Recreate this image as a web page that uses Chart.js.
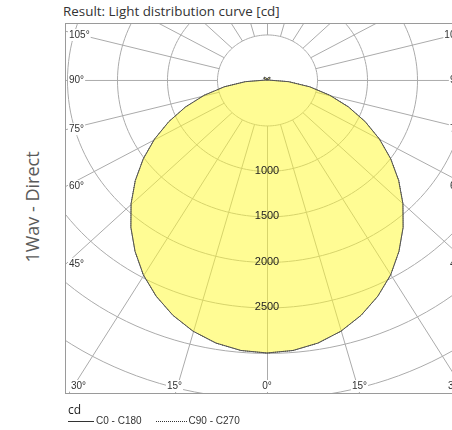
<!DOCTYPE html>
<html>
<head>
<meta charset="utf-8">
<script src="https://cdn.jsdelivr.net/npm/chart.js@4.4.0/dist/chart.umd.min.js"></script>
<style>
  html, body { margin: 0; padding: 0; background: #fff; }
  body { width: 452px; height: 430px; overflow: hidden; position: relative; }
  #wrap { position: absolute; left: 0; top: 0; width: 480px; height: 430px; }
  #title { position: absolute; left: 63px; top: 2px; font: 13.4px "Open Sans", sans-serif; color: #333; white-space: nowrap; }
  #side { position: absolute; left: 32px; top: 207px; transform: translate(-50%, -50%) rotate(-90deg);
          font: 18px "Open Sans", sans-serif; color: #5a5a5a; white-space: nowrap; }
  #unit { position: absolute; left: 68px; top: 401px; font: 12px "Open Sans", sans-serif; color: #222; }
  #legend { position: absolute; left: 68px; top: 415px; font: 10px "Liberation Sans", Arial, sans-serif; color: #333; white-space: nowrap; }
  #legend span.ln { display: inline-block; width: 26px; vertical-align: middle; margin-right: 2px; }
  #legend span.solid { border-top: 1px solid #333; }
  #legend span.dot { border-top: 1px dotted #333; margin-left: 14px; width: 31px; }
</style>
</head>
<body>
<div id="title">Result: Light distribution curve [cd]</div>
<div id="side">1Wav - Direct</div>
<div id="wrap"><canvas id="ldc" width="480" height="430"></canvas></div>
<div id="unit">cd</div>
<div id="legend"><span class="ln solid"></span>C0 - C180<span class="ln dot"></span>C90 - C270</div>

<script>
// ==========================================
// DATA
// ==========================================
const angles = [0, 5, 10, 15, 20, 25, 30, 35, 40, 45, 50, 55, 60, 65, 70, 75, 80, 85, 90,
                95, 100, 105, 110, 115, 120, 125, 130, 135, 140, 145, 150, 155, 160, 165, 170, 175, 180];
const c0c180 = [3000, 2984, 2936, 2858, 2752, 2622, 2473, 2300, 2117, 1922, 1719, 1510, 1298, 1083, 867, 650, 434, 217, 0,
                3, 8, 14, 20, 26, 32, 36, 39, 40, 38, 34, 28, 21, 14, 8, 4, 1, 0];
const c90c270 = [3000, 2984, 2936, 2858, 2752, 2622, 2473, 2300, 2117, 1922, 1719, 1510, 1298, 1083, 867, 650, 434, 217, 0,
                 3, 8, 14, 20, 26, 32, 36, 39, 40, 38, 34, 28, 21, 14, 8, 4, 1, 0];
const ringValues = [500, 1000, 1500, 2000, 2500, 3000, 3500, 4000, 4500];
const ringLabels = [1000, 1500, 2000, 2500];
const spokeStep = 15;
const sideAngleLabels = [105, 90, 75, 60, 45];
const bottomAngleLabels = [30, 15, 0];

// polar (gamma, cd) -> x/y in cd, both halves of the plane
function closedCurve(values) {
    const pts = [];
    angles.forEach((a, i) => {
        const r = a * Math.PI / 180;
        pts.push({ x: values[i] * Math.sin(r), y: values[i] * Math.cos(r) });
    });
    for (let i = angles.length - 1; i >= 0; i--) {
        const r = angles[i] * Math.PI / 180;
        pts.push({ x: -values[i] * Math.sin(r), y: values[i] * Math.cos(r) });
    }
    return pts;
}

// ==========================================
// POLAR GRID PLUGIN
// ==========================================
function toPixel(chart, cd, deg) {
    const rad = deg * Math.PI / 180;
    return {
        x: chart.scales.x.getPixelForValue(cd * Math.sin(rad)),
        y: chart.scales.y.getPixelForValue(cd * Math.cos(rad))
    };
}

// where a spoke meets the frame
function frameHit(chart, deg) {
    const a = chart.chartArea;
    const c = toPixel(chart, 0, deg);
    const f = toPixel(chart, 1, deg);
    const dx = f.x - c.x, dy = f.y - c.y;
    let t = Infinity;
    if (dx < -1e-9) t = Math.min(t, (a.left - c.x) / dx);
    if (dx > 1e-9) t = Math.min(t, (a.right - c.x) / dx);
    if (dy < -1e-9) t = Math.min(t, (a.top - c.y) / dy);
    if (dy > 1e-9) t = Math.min(t, (a.bottom - c.y) / dy);
    return { x: c.x + dx * t, y: c.y + dy * t };
}

function boxedText(ctx, text, x, y, align) {
    const w = ctx.measureText(text).width;
    let x0 = align === 'left' ? x : align === 'right' ? x - w : x - w / 2;
    ctx.fillStyle = '#fff';
    ctx.fillRect(x0 - 1, y - 6, w + 2, 12);
    ctx.fillStyle = '#333';
    ctx.textAlign = align;
    ctx.fillText(text, x, y);
}

const polarGrid = {
    id: 'polarGrid',
    beforeDatasetsDraw(chart) {
        const { ctx, chartArea: a } = chart;
        ctx.save();
        ctx.beginPath();
        ctx.rect(a.left, a.top, a.right - a.left, a.bottom - a.top);
        ctx.clip();
        ctx.translate(0.5, 0.5);
        ctx.strokeStyle = '#ababab';
        ctx.lineWidth = 1;
        ringValues.forEach(r => {
            ctx.beginPath();
            for (let t = 0; t <= 360; t += 2) {
                const p = toPixel(chart, r, t);
                if (t === 0) ctx.moveTo(p.x, p.y); else ctx.lineTo(p.x, p.y);
            }
            ctx.stroke();
        });
        for (let g = 0; g < 360; g += spokeStep) {
            const p0 = toPixel(chart, ringValues[0], g);
            const p1 = toPixel(chart, 8000, g);
            ctx.beginPath();
            ctx.moveTo(p0.x, p0.y);
            ctx.lineTo(p1.x, p1.y);
            ctx.stroke();
        }
        ctx.restore();
    },
    afterDatasetsDraw(chart) {
        const { ctx, chartArea: a } = chart;
        ctx.save();
        ctx.font = '10px "Liberation Sans", Arial, sans-serif';
        ctx.textBaseline = 'middle';

        // angle labels, left and right edges
        sideAngleLabels.forEach(g => {
            const hl = frameHit(chart, -g);
            const yl = Math.max(hl.y, a.top + 12);
            boxedText(ctx, g + '°', a.left + 4, yl, 'left');
            const hr = frameHit(chart, g);
            const yr = Math.max(hr.y, a.top + 12);
            boxedText(ctx, g + '°', a.right - 4, yr, 'right');
        });
        // angle labels, bottom edge
        bottomAngleLabels.forEach(g => {
            [-g, g].forEach(s => {
                const h = frameHit(chart, s);
                const w = ctx.measureText(g + '°').width;
                const x = Math.min(Math.max(h.x, a.left + 6 + w / 2), a.right - 6 - w / 2);
                boxedText(ctx, g + '°', x, a.bottom - 8, 'center');
            });
        });

        // intensity labels on the 0° spoke
        ctx.font = '11px "Liberation Sans", Arial, sans-serif';
        ctx.fillStyle = '#222';
        ctx.textAlign = 'center';
        ringLabels.forEach(v => {
            const p = toPixel(chart, v, 0);
            ctx.fillText(String(v), p.x, p.y);
        });

        // frame
        ctx.strokeStyle = '#9a9a9a';
        ctx.lineWidth = 1;
        ctx.strokeRect(a.left + 0.5, a.top + 0.5, a.right - a.left - 1, a.bottom - a.top - 1);
        ctx.restore();
    }
};

// ==========================================
// CHART
// ==========================================
new Chart(document.getElementById('ldc'), {
    type: 'scatter',
    data: {
        datasets: [
            {
                label: 'C0 - C180',
                data: closedCurve(c0c180),
                showLine: true,
                fill: 'shape',
                backgroundColor: 'rgba(255, 250, 50, 0.52)',
                borderColor: '#555',
                borderWidth: 1,
                pointRadius: 0,
                tension: 0
            },
            {
                label: 'C90 - C270',
                data: closedCurve(c90c270),
                showLine: true,
                fill: false,
                borderColor: '#111',
                borderWidth: 1,
                borderDash: [1, 1],
                pointRadius: 0,
                tension: 0
            }
        ]
    },
    options: {
        responsive: false,
        animation: false,
        layout: { padding: { left: 65, top: 23, right: 11, bottom: 36 } },
        scales: {
            x: { type: 'linear', display: false, min: -2020, max: 2020 },
            y: { type: 'linear', display: false, reverse: true, min: -626, max: 3451 }
        },
        plugins: {
            legend: { display: false },
            tooltip: { enabled: false }
        }
    },
    plugins: [polarGrid]
});
</script>
</body>
</html>
